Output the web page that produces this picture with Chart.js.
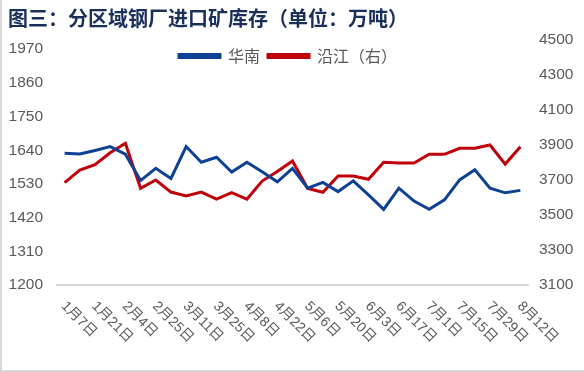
<!DOCTYPE html>
<html>
<head>
<meta charset="utf-8">
<script src="https://cdn.jsdelivr.net/npm/chart.js@4/dist/chart.umd.min.js"></script>
<style>
  html, body { margin: 0; padding: 0; background: #fff; }
  #wrap { width: 584px; height: 372px; position: relative; }
</style>
</head>
<body>
<div id="wrap"><canvas id="oreChart" width="584" height="372"></canvas></div>
<script>
// weekly dates (one week around the Spring Festival is missing)
const dates = ['1月7日', '1月14日', '1月21日', '1月28日', '2月4日', '2月18日', '2月25日', '3月4日',
    '3月11日', '3月18日', '3月25日', '4月1日', '4月8日', '4月15日', '4月22日', '4月29日',
    '5月6日', '5月13日', '5月20日', '5月27日', '6月3日', '6月10日', '6月17日', '6月24日',
    '7月1日', '7月8日', '7月15日', '7月22日', '7月29日', '8月5日', '8月12日'];

// 华南, left axis
const southChina = [1630, 1628, 1639, 1652, 1627, 1541, 1581, 1548, 1652, 1601, 1617, 1569, 1601, 1570, 1537, 1581,
    1516, 1535, 1505, 1540, 1494, 1447, 1516, 1474, 1447, 1478, 1543, 1576, 1516, 1501, 1509];

// 沿江, right axis
const alongRiver = [3685, 3757, 3788, 3856, 3910, 3652, 3700, 3631, 3609, 3631, 3591, 3628, 3590, 3694, 3748, 3809,
    3652, 3630, 3723, 3723, 3704, 3801, 3797, 3797, 3847, 3847, 3881, 3881, 3900, 3791, 3890];

const leftTicks = [1200, 1310, 1420, 1530, 1640, 1750, 1860, 1970];
const rightTicks = [3100, 3300, 3500, 3700, 3900, 4100, 4300, 4500];

const blue = '#0E4194';
const red = '#C0000B';
const grey = '#595959';

// x labels are turned clockwise, so draw them here at the scale's own positions
const dateLabels = {
    id: 'dateLabels',
    afterDraw(chart) {
        const ctx = chart.ctx;
        const xScale = chart.scales.x;
        ctx.save();
        ctx.font = '14px "Liberation Sans", "Noto Sans CJK SC", sans-serif';
        ctx.fillStyle = grey;
        ctx.textAlign = 'left';
        ctx.textBaseline = 'middle';
        dates.forEach(function (d, i) {
            if (i % 2 !== 0) return;
            ctx.save();
            ctx.translate(xScale.getPixelForValue(i) - 1, xScale.top + 19);
            ctx.rotate(Math.PI / 4);
            ctx.fillText(d, 0, 0);
            ctx.restore();
        });
        ctx.restore();
    }
};

const frame = {
    id: 'frame',
    beforeDraw(chart) {
        const ctx = chart.ctx;
        ctx.save();
        ctx.fillStyle = '#d9d9d9';
        ctx.fillRect(0, 0, 2, chart.height);
        ctx.fillRect(0, chart.height - 2, chart.width, 2);
        ctx.restore();
    }
};

// the legend sits inside the plot: it takes no room in the layout,
// then gets its real height back so it is not clipped away
const legendInside = {
    id: 'legendInside',
    afterLayout(chart) {
        const legend = chart.legend;
        if (legend && legend._fullHeight) {
            legend.height = legend._fullHeight;
            legend.bottom = legend.top + legend._fullHeight;
            legend.right -= 16;
            legend.width -= 16;
        }
    }
};

const plainNumber = v => String(v);

const ctx = document.getElementById('oreChart').getContext('2d');

const oreChart = new Chart(ctx, {
    type: 'line',
    data: {
        labels: dates,
        datasets: [{
            label: '华南',
            data: southChina,
            yAxisID: 'y',
            borderColor: blue,
            backgroundColor: blue,
            borderWidth: 3,
            pointRadius: 0,
            tension: 0
        }, {
            label: '沿江（右）',
            data: alongRiver,
            yAxisID: 'y1',
            borderColor: red,
            backgroundColor: red,
            borderWidth: 3,
            pointRadius: 0,
            tension: 0
        }]
    },
    options: {
        responsive: false,
        animation: false,
        layout: {
            padding: { left: 8, right: 0, top: 0, bottom: 0 }
        },
        plugins: {
            title: {
                display: true,
                text: '图三：分区域钢厂进口矿库存（单位：万吨）',
                align: 'start',
                color: '#1B2F5B',
                font: { family: '"Noto Sans CJK SC", sans-serif', size: 20, weight: 'bold' },
                padding: { top: 6, bottom: 10 }
            },
            legend: {
                position: 'top',
                align: 'center',
                labels: {
                    boxWidth: 41,
                    boxHeight: 3,
                    padding: 8,
                    color: grey,
                    font: { family: '"Noto Sans CJK SC", sans-serif', size: 16 }
                }
            },
            tooltip: { enabled: false }
        },
        scales: {
            x: {
                offset: true,
                grid: { display: false, drawTicks: false },
                border: { display: true, color: '#d9d9d9', width: 2 },
                ticks: { display: false },
                afterFit(scale) { scale.height = 87; }
            },
            y: {
                position: 'left',
                min: 1200,
                max: 2000,
                grid: { display: false, drawTicks: false },
                border: { display: false },
                afterBuildTicks(scale) { scale.ticks = leftTicks.map(v => ({ value: v })); },
                afterFit(scale) { scale.width = 49; },
                ticks: {
                    padding: 14,
                    color: grey,
                    callback: plainNumber,
                    font: { family: '"Liberation Sans", sans-serif', size: 15.5 }
                }
            },
            y1: {
                position: 'right',
                min: 3100,
                max: 4500,
                grid: { display: false, drawTicks: false },
                border: { display: false },
                afterBuildTicks(scale) { scale.ticks = rightTicks.map(v => ({ value: v })); },
                afterFit(scale) { scale.width = 56; },
                ticks: {
                    padding: 11,
                    color: grey,
                    callback: plainNumber,
                    font: { family: '"Liberation Sans", sans-serif', size: 15.5 }
                }
            }
        }
    },
    plugins: [frame, dateLabels, legendInside]
});

const legendFit = oreChart.legend.fit;
oreChart.legend.fit = function () {
    legendFit.call(this);
    this._fullHeight = this.height;
    this.height = 0;
};
oreChart.update();
</script>
</body>
</html>
